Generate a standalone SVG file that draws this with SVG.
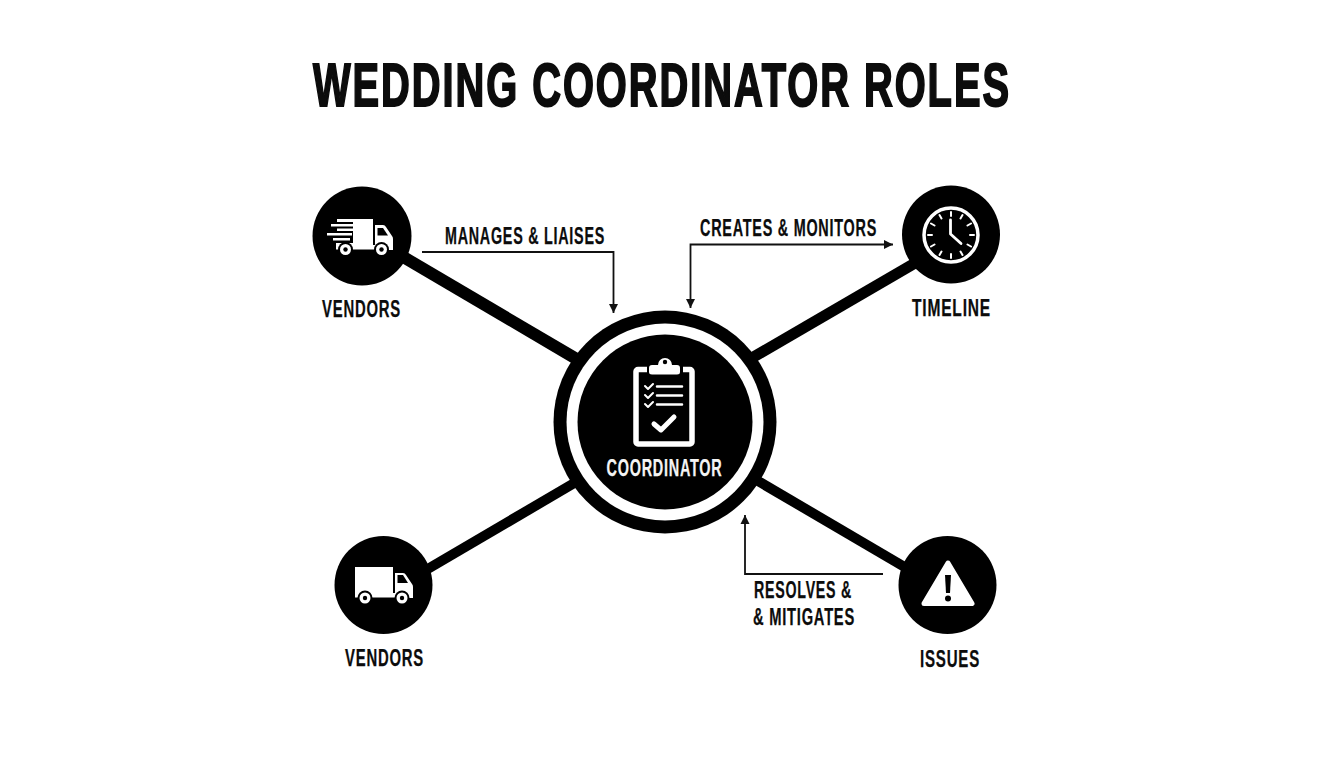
<svg xmlns="http://www.w3.org/2000/svg" width="1344" height="768" viewBox="0 0 1344 768">
<style>
text{font-family:"Liberation Sans",Arial,sans-serif;font-weight:700;fill:#0c0c0c;stroke:#0c0c0c;stroke-width:.25px;letter-spacing:1.200px}
.lb{font-size:23px}
.hub{stroke:#000;fill:none}
.thin{stroke:#111;stroke-width:1.800;fill:none}
.w{fill:#fff}
.k{fill:#000}
.ws{stroke:#fff;fill:none;stroke-linecap:round;stroke-linejoin:round}
</style>
<defs>
<marker id="a" markerUnits="userSpaceOnUse" markerWidth="10" markerHeight="10" refX="9" refY="5" orient="auto-start-reverse"><path d="M0 .5L9 5L0 9.500Z" fill="#111"/></marker>
</defs>
<rect width="1344" height="768" fill="#fff"/>
<text id="title" transform="translate(313 105.500) scale(.653 1)" font-size="61" style="letter-spacing:3px;stroke-width:2px">WEDDING COORDINATOR ROLES</text>
<g id="connectors">
<path class="hub" stroke-width="12" d="M400 255L580 361"/>
<path class="hub" stroke-width="11" d="M750 359L922 259"/>
<path class="hub" stroke-width="10" d="M426 570L576 482"/>
<path class="hub" stroke-width="10" d="M758 481L908 569"/>
<path class="thin" marker-end="url(#a)" d="M422 252H613.500V313"/>
<path class="thin" marker-start="url(#a)" marker-end="url(#a)" d="M690.500 308V244.500H893"/>
<path class="thin" marker-end="url(#a)" d="M883 574H745V515"/>
</g>
<g id="node-coordinator">
<circle cx="665" cy="422" r="111.500" class="k"/>
<circle cx="665" cy="422" r="98.500" class="w"/>
<circle cx="665" cy="422" r="87.500" class="k"/>
<rect x="636" y="369.500" width="56" height="74.500" rx="2" fill="none" stroke="#fff" stroke-width="5.500"/>
<path class="k" d="M647 364h36v12h-36Z"/>
<path class="w" d="M649 372v-4q0-3 3-3h6a7 7 0 0 1 14 0h5q3 0 3 3v4q0 2.500-3 2.500h-25q-3 0-3-2.500Z"/>
<circle cx="665" cy="362" r="2.200" class="k"/>
<path class="ws" stroke-width="2" d="M645 386l3 3l5-5M645 395l3 3l5-5M645 404l3 3l5-5"/>
<path class="ws" stroke-width="2.500" stroke-linecap="butt" d="M657 386.500h25M657 395.500h25M657 404.500h25"/>
<path class="ws" stroke-width="5" stroke-linecap="butt" d="M654 424l7 6l13-13"/>
<text x="606.500" y="476" font-size="23" textLength="116" lengthAdjust="spacingAndGlyphs" style="fill:#f4f4f4;stroke:#f4f4f4">COORDINATOR</text>
</g>
<g id="node-vendors-top">
<circle cx="362" cy="236" r="49.500" class="k"/>
<path class="w" d="M353 219h20v26h-20ZM337 219h16v3h-16ZM331 224h22v2.500h-22ZM337 228.500h16v2.500h-16ZM327 233h25v2.500h-25ZM333 238h17v2.500h-17ZM336 243h17v3h-17Z"/>
<path class="w" d="M375 225h8q2 0 3 2l6 9q1 1 1 3v11h-18Z"/>
<path class="k" d="M377.500 228h5.500l5 7.500h-10.500Z"/>
<rect x="336" y="245" width="57" height="4.500" class="w"/>
<circle cx="345.500" cy="249.500" r="7.500" class="k"/><circle cx="345.500" cy="249.500" r="5.500" class="w"/><circle cx="345.500" cy="249.500" r="2.200" class="k"/>
<circle cx="381.500" cy="249.500" r="7.500" class="k"/><circle cx="381.500" cy="249.500" r="5.500" class="w"/><circle cx="381.500" cy="249.500" r="2.200" class="k"/>
<text x="322" y="317" class="lb" textLength="79" lengthAdjust="spacingAndGlyphs">VENDORS</text>
</g>
<g id="node-timeline">
<circle cx="951" cy="234.500" r="49" class="k"/>
<circle cx="951" cy="235" r="27" fill="none" stroke="#fff" stroke-width="3.500"/>
<path class="ws" stroke-width="2" stroke-linecap="butt" d="M951 212v4M951 254v4M928 235h4M970 235h4M939.500 215l2 3.500M962.500 215l-2 3.500M931 223.500l3.500 2M971 223.500l-3.500 2M931 246.500l3.500-2M971 246.500l-3.500-2M939.500 255l2-3.500M962.500 255l-2-3.500"/>
<path class="ws" stroke-width="2.800" d="M950.500 220v14l10.500 9.500"/>
<text x="912" y="316" class="lb" textLength="79" lengthAdjust="spacingAndGlyphs">TIMELINE</text>
</g>
<g id="node-vendors-bottom">
<circle cx="383.500" cy="585" r="49" class="k"/>
<rect x="355" y="567" width="38" height="26" class="w"/>
<path class="w" d="M395 573h8q2 0 3 2l6 9q1 1 1 3v11h-18Z"/>
<path class="k" d="M397.500 575h5.500l5 8h-10.500Z"/>
<rect x="355" y="593" width="58" height="4.500" class="w"/>
<circle cx="365" cy="598" r="7.500" class="k"/><circle cx="365" cy="598" r="5.500" class="w"/><circle cx="365" cy="598" r="2.200" class="k"/>
<circle cx="402" cy="598" r="7.500" class="k"/><circle cx="402" cy="598" r="5.500" class="w"/><circle cx="402" cy="598" r="2.200" class="k"/>
<text x="345" y="666" class="lb" textLength="79" lengthAdjust="spacingAndGlyphs">VENDORS</text>
</g>
<g id="node-issues">
<circle cx="947.500" cy="585" r="49" class="k"/>
<path class="w" stroke="#fff" stroke-width="5" stroke-linejoin="round" d="M948 563L972 603.500H924Z"/>
<path class="k" d="M945 575h6l-1 18h-4Z"/>
<circle cx="948" cy="598.500" r="3" class="k"/>
<text x="920" y="667" class="lb" textLength="60" lengthAdjust="spacingAndGlyphs">ISSUES</text>
</g>
<g id="labels">
<text x="445" y="244" font-size="23" textLength="160" lengthAdjust="spacingAndGlyphs">MANAGES &amp; LIAISES</text>
<text x="700" y="236" font-size="23" textLength="177" lengthAdjust="spacingAndGlyphs">CREATES &amp; MONITORS</text>
<text x="754" y="598" font-size="23" textLength="98" lengthAdjust="spacingAndGlyphs">RESOLVES &amp;</text>
<text x="753" y="625" font-size="23" textLength="102" lengthAdjust="spacingAndGlyphs">&amp; MITIGATES</text>
</g>
</svg>
